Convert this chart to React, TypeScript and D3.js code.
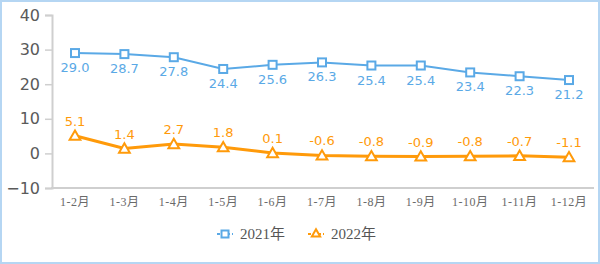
import React, { useEffect, useRef } from 'react';
import * as d3 from 'd3';

const months = ['1-2月', '1-3月', '1-4月', '1-5月', '1-6月', '1-7月', '1-8月', '1-9月', '1-10月', '1-11月', '1-12月'];
const values2021 = [29.0, 28.7, 27.8, 24.4, 25.6, 26.3, 25.4, 25.4, 23.4, 22.3, 21.2];
const values2022 = [5.1, 1.4, 2.7, 1.8, 0.1, -0.6, -0.8, -0.9, -0.8, -0.7, -1.1];
const yTicks = [-10, 0, 10, 20, 30, 40];
const seriesNames = ['2021年', '2022年'];

const BLUE = '#5aa9e6';
const ORANGE = '#ff9a0a';

const Chart = () => {
  const ref = useRef(null);

  useEffect(() => {
    const svg = d3.select(ref.current);
    svg.selectAll('*').remove();

    const x = d3.scalePoint().domain(months).range([75, 569]);
    const y = d3.scaleLinear().domain([-10, 40]).range([188, 15]);

    // outer frame
    svg.append('rect')
      .attr('x', 1).attr('y', 1).attr('width', 598).attr('height', 262)
      .attr('fill', '#fff').attr('stroke', '#b5d6f3').attr('stroke-width', 2);

    // y axis
    const yAxis = svg.append('g')
      .attr('transform', 'translate(52,0)')
      .call(d3.axisLeft(y).tickValues(yTicks).tickSize(7).tickPadding(5).tickFormat(d3.format('d')));
    yAxis.select('.domain').attr('stroke', '#cfcfcf').attr('stroke-width', 2);
    yAxis.selectAll('.tick line').attr('stroke', '#cfcfcf').attr('stroke-width', 1.5);
    yAxis.selectAll('.tick text')
      .attr('fill', '#5a5a5a')
      .style('font-family', '"DejaVu Sans", Verdana, sans-serif')
      .style('font-size', '16px');

    // x axis
    svg.append('line')
      .attr('x1', 51).attr('x2', 594).attr('y1', y(-10)).attr('y2', y(-10))
      .attr('stroke', '#cfcfcf').attr('stroke-width', 2);

    svg.append('g').selectAll('text')
      .data(months)
      .enter().append('text')
      .attr('x', d => x(d))
      .attr('y', 206)
      .attr('text-anchor', 'middle')
      .attr('fill', '#6a6a6a')
      .style('font-family', '"Liberation Serif", "Noto Sans CJK SC", serif')
      .style('font-size', '12px')
      .style('letter-spacing', '0.5px')
      .text(d => d);

    const line = d3.line<number>()
      .x((d, i) => x(months[i]))
      .y(d => y(d));

    // 2021
    svg.append('path')
      .datum(values2021)
      .attr('d', line)
      .attr('fill', 'none')
      .attr('stroke', BLUE)
      .attr('stroke-width', 2);

    svg.append('g').selectAll('rect')
      .data(values2021)
      .enter().append('rect')
      .attr('x', (d, i) => x(months[i]) - 4)
      .attr('y', d => y(d) - 4)
      .attr('width', 8).attr('height', 8)
      .attr('fill', '#fff').attr('stroke', BLUE).attr('stroke-width', 2);

    svg.append('g').selectAll('text')
      .data(values2021)
      .enter().append('text')
      .attr('x', (d, i) => x(months[i]))
      .attr('y', d => y(d) + 19)
      .attr('text-anchor', 'middle')
      .attr('fill', BLUE)
      .style('font-family', '"DejaVu Sans", Verdana, sans-serif')
      .style('font-size', '13px')
      .text(d => d.toFixed(1));

    // 2022
    svg.append('path')
      .datum(values2022)
      .attr('d', line)
      .attr('fill', 'none')
      .attr('stroke', ORANGE)
      .attr('stroke-width', 3);

    const tri = d3.symbol().type(d3.symbolTriangle).size(50);
    svg.append('g').selectAll('path')
      .data(values2022)
      .enter().append('path')
      .attr('d', tri)
      .attr('transform', (d, i) => `translate(${x(months[i])},${y(d) + 1})`)
      .attr('fill', '#fff').attr('stroke', ORANGE).attr('stroke-width', 2);

    svg.append('g').selectAll('text')
      .data(values2022)
      .enter().append('text')
      .attr('x', (d, i) => x(months[i]))
      .attr('y', d => y(d) - 10)
      .attr('text-anchor', 'middle')
      .attr('fill', ORANGE)
      .style('font-family', '"DejaVu Sans", Verdana, sans-serif')
      .style('font-size', '13px')
      .text(d => d.toFixed(1));

    // legend
    const legend = svg.append('g');
    const legendX = [225, 316];
    const colors = [BLUE, ORANGE];
    seriesNames.forEach((name, i) => {
      const cx = legendX[i];
      legend.append('line')
        .attr('x1', cx - 8).attr('x2', cx + 8).attr('y1', 234).attr('y2', 234)
        .attr('stroke', colors[i]).attr('stroke-width', 2).attr('stroke-dasharray', '3,2');
      if (i === 0) {
        legend.append('rect')
          .attr('x', cx - 3.5).attr('y', 230.5).attr('width', 7).attr('height', 7)
          .attr('fill', '#fff').attr('stroke', colors[i]).attr('stroke-width', 2);
      } else {
        legend.append('path')
          .attr('d', d3.symbol().type(d3.symbolTriangle).size(30))
          .attr('transform', `translate(${cx},${234})`)
          .attr('fill', '#fff').attr('stroke', colors[i]).attr('stroke-width', 2);
      }
      legend.append('text')
        .attr('x', cx + 15)
        .attr('y', 239)
        .attr('fill', '#555')
        .style('font-family', '"Liberation Serif", "Noto Sans CJK SC", serif')
        .style('font-size', '15px')
        .text(name);
    });
  }, []);

  return <svg ref={ref} width={600} height={264} style={{ display: 'block' }} />;
};

export default function App() {
  return (
    <div style={{ position: 'absolute', left: 0, top: 0 }}>
      <Chart />
    </div>
  );
}
